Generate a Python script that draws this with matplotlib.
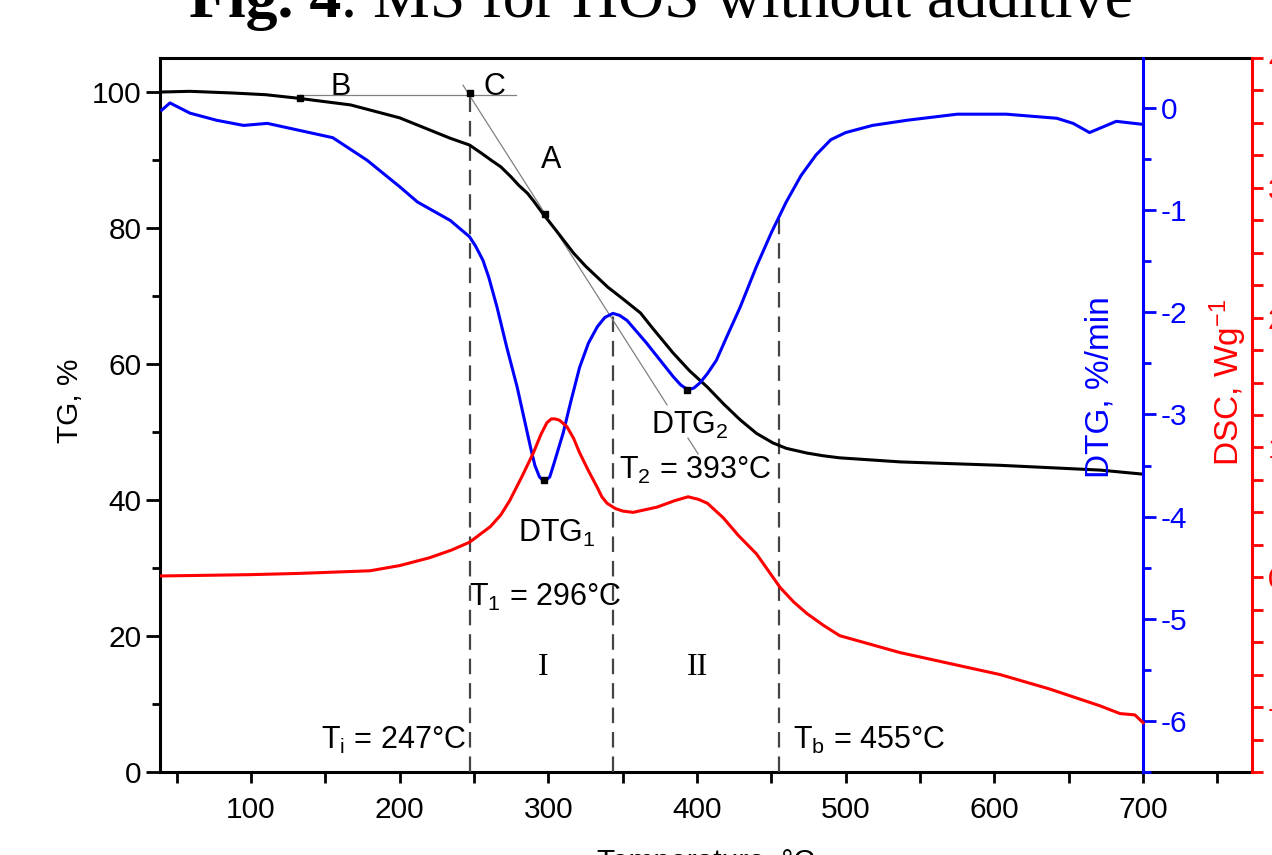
import matplotlib
matplotlib.use("Agg")
import matplotlib.pyplot as plt
from matplotlib.ticker import MultipleLocator

plt.rcParams['font.family'] = ['Liberation Sans', 'DejaVu Sans']
plt.rcParams['mathtext.fontset'] = 'custom'
plt.rcParams['mathtext.rm'] = 'Liberation Sans'
plt.rcParams['mathtext.it'] = 'Liberation Sans'
plt.rcParams['axes.unicode_minus'] = False

# TG curve (temperature, %)
tg_t = [40, 59, 88, 110, 131, 167, 200, 234, 247, 255, 262, 268, 275, 280, 286, 290, 296,
        305, 317, 325, 340, 350, 362, 370, 384, 395, 407, 418, 429, 440, 451, 460, 474,
        485, 496, 537, 604, 671, 700]
tg_v = [100.0, 100.1, 99.85, 99.6, 99.1, 98.1, 96.2, 93.2, 92.2, 91.0, 89.9, 89.0, 87.5,
        86.3, 85.1, 84.0, 82.2, 79.7, 76.3, 74.4, 71.3, 69.6, 67.5, 65.3, 61.6, 59.0,
        56.6, 54.1, 51.8, 49.8, 48.4, 47.6, 46.9, 46.5, 46.2, 45.6, 45.1, 44.4, 43.8]

# DTG curve (%/min)
dtg_t = [40, 45.5, 59, 77, 95, 111, 133, 155, 178, 200, 212, 234, 247, 251, 256, 260,
         265.5, 272, 279, 288, 291, 294, 296, 298, 299.5, 301, 304, 310, 315, 321, 327,
         333, 338, 343.5, 348, 353, 366, 384, 389, 394, 398, 402, 407, 413, 420, 429,
         440, 450, 460, 470, 480, 490, 500, 518, 541, 575, 608, 642, 653, 664, 682, 700]
dtg_v = [-0.02, 0.05, -0.05, -0.12, -0.17, -0.15, -0.22, -0.29, -0.51, -0.77, -0.92,
         -1.10, -1.26, -1.35, -1.49, -1.66, -1.95, -2.34, -2.73, -3.32, -3.50, -3.61,
         -3.64, -3.64, -3.63, -3.61, -3.47, -3.18, -2.88, -2.54, -2.30, -2.14, -2.05,
         -2.01, -2.03, -2.08, -2.30, -2.63, -2.71, -2.76, -2.74, -2.69, -2.60, -2.47,
         -2.24, -1.95, -1.55, -1.22, -0.92, -0.66, -0.46, -0.31, -0.24, -0.17, -0.12,
         -0.06, -0.06, -0.10, -0.15, -0.24, -0.13, -0.16]

# DSC curve (W/g)
dsc_t = [39, 99, 133, 180, 200, 220, 235, 247, 261, 268, 274, 282, 290, 295, 299, 302,
         304.5, 307.5, 312.5, 317, 321, 327, 333, 336, 339.5, 345, 350, 357, 373, 385,
         394, 401, 407, 417.5, 428, 440, 456, 465, 474, 485, 496, 536.5, 604, 637, 671,
         684.5, 694.5, 700]
dsc_v = [0.01, 0.02, 0.03, 0.05, 0.09, 0.15, 0.21, 0.27, 0.39, 0.48, 0.59, 0.77, 0.96,
         1.10, 1.19, 1.22, 1.22, 1.21, 1.16, 1.07, 0.96, 0.82, 0.69, 0.62, 0.57, 0.53,
         0.51, 0.50, 0.54, 0.59, 0.62, 0.60, 0.57, 0.46, 0.32, 0.18, -0.08, -0.19,
         -0.28, -0.37, -0.45, -0.58, -0.75, -0.86, -0.99, -1.05, -1.06, -1.12]

# characteristic points
tg_marks_t = [133, 247, 297.8]
tg_marks_v = [99.1, 99.8, 82.0]
dtg_marks_t = [297, 393]
dtg_marks_v = [-3.64, -2.76]
t_lines = [247, 343.5, 455]
t_lines_top = [99.8, 67.5, 82.6]

fig = plt.figure(figsize=(12.72, 8.55), dpi=100)
ax = fig.add_axes([160 / 1272, 1 - 772 / 855, 1092 / 1272, 714 / 855])
ax2 = ax.twinx()
ax3 = ax.twinx()

xmin, xmax = 38.8, 773.3
ax.set_xlim(xmin, xmax)
ax.set_ylim(0, 105)
ax2.set_ylim(-6.5, 0.49)
ax3.set_ylim(-1.5, 4.0)

lw = 2.2
ax.plot(tg_t, tg_v, color='black', lw=lw, zorder=5, solid_joinstyle='round')
ax2.plot(dtg_t, dtg_v, color='blue', lw=lw, zorder=5, solid_joinstyle='round')
ax3.plot(dsc_t, dsc_v, color='red', lw=lw, zorder=5, solid_joinstyle='round')

ax.plot(tg_marks_t, tg_marks_v, 's', color='black', ms=5, zorder=6)
ax2.plot(dtg_marks_t, dtg_marks_v, 's', color='black', ms=5, zorder=6)

# construction lines
ax.plot([133, 278], [99.6, 99.6], color='gray', lw=0.9, zorder=4)
ax.plot([242.6, 379.8], [101.0, 54.0], color='gray', lw=0.9, zorder=4)
ax.plot([393.9, 400.7], [49.1, 46.8], color='gray', lw=0.9, zorder=4)
for x, top in zip(t_lines, t_lines_top):
    ax.plot([x, x], [0, top], color='#444444', lw=1.6, ls=(0, (7, 4)), zorder=3)

# spines and ticks
ax.spines['right'].set_visible(False)
for s in ['left', 'top', 'bottom']:
    ax.spines[s].set_linewidth(2.2)
    ax2.spines[s].set_visible(False)
    ax3.spines[s].set_visible(False)
ax2.spines['right'].set_position(('axes', (700 - xmin) / (xmax - xmin)))
ax2.spines['right'].set_color('blue')
ax2.spines['right'].set_linewidth(2.2)
ax3.spines['right'].set_color('red')
ax3.spines['right'].set_linewidth(2.2)

ax.xaxis.set_major_locator(MultipleLocator(100))
ax.xaxis.set_minor_locator(MultipleLocator(50))
ax.yaxis.set_major_locator(MultipleLocator(20))
ax.yaxis.set_minor_locator(MultipleLocator(10))
ax.tick_params(axis='x', which='both', direction='out', length=8, width=2, labelsize=21.5, pad=9)
ax.tick_params(axis='y', which='major', direction='out', length=10, width=2, labelsize=21.5)
ax.tick_params(axis='y', which='minor', direction='out', length=6, width=2)

ax2.yaxis.set_major_locator(MultipleLocator(1))
ax2.yaxis.set_minor_locator(MultipleLocator(0.5))
ax2.tick_params(axis='y', which='major', colors='blue', length=9, width=2, labelsize=21.5)
ax2.tick_params(axis='y', which='minor', colors='blue', length=6, width=2)

ax3.yaxis.set_major_locator(MultipleLocator(1))
ax3.yaxis.set_minor_locator(MultipleLocator(0.25))
ax3.tick_params(axis='y', which='major', colors='red', length=8, width=2, labelsize=21.5)
ax3.tick_params(axis='y', which='minor', colors='red', length=8, width=2)

# axis titles
ax.text(-0.082, 0.52, 'TG, %', transform=ax.transAxes, rotation=90,
        ha='center', va='center', fontsize=21.5)
ax.text(0.861, 0.539, 'DTG, %/min', transform=ax.transAxes, rotation=90,
        ha='center', va='center', fontsize=24, color='blue', zorder=7)
ax.text(0.978, 0.545, 'DSC, Wg$^{-1}$', transform=ax.transAxes, rotation=90,
        ha='center', va='center', fontsize=24, color='red', zorder=7)

# annotations
fs = 22
ax.text(160, 100.7, 'B', ha='center', va='center', fontsize=fs)
ax.text(264, 100.7, 'C', ha='center', va='center', fontsize=fs)
ax.text(302, 90.0, 'A', ha='center', va='center', fontsize=fs)
ax.text(306, 35.1, 'DTG$_1$', ha='center', va='center', fontsize=fs)
ax.text(297.8, 25.6, 'T$_1$ = 296°C', ha='center', va='center', fontsize=fs)
ax.text(395.3, 51.0, 'DTG$_2$', ha='center', va='center', fontsize=fs)
ax.text(398.6, 44.4, 'T$_2$ = 393°C', ha='center', va='center', fontsize=fs)
ax.text(245, 4.7, 'T$_\\mathrm{i}$ = 247°C', ha='right', va='center', fontsize=fs)
ax.text(464.6, 4.7, 'T$_\\mathrm{b}$ = 455°C', ha='left', va='center', fontsize=fs)
ax.text(296.4, 15.3, 'I', ha='center', va='center', fontsize=23, family='Liberation Serif')
ax.text(400, 15.3, 'II', ha='center', va='center', fontsize=23, family='Liberation Serif')

# cropped title and x label
fig.text(341 / 1272, 1 - 17 / 855, 'Fig. 4', ha='right', va='baseline', fontsize=46,
         family='Liberation Serif', weight='bold')
fig.text(341 / 1272, 1 - 17 / 855, '. MS for HOS without additive', ha='left', va='baseline',
         fontsize=46, family='Liberation Serif')
fig.text(706 / 1272, 1 - 870 / 855, 'Temperature, °C', ha='center', va='baseline', fontsize=21.5)

fig.savefig('out.png', dpi=100)
